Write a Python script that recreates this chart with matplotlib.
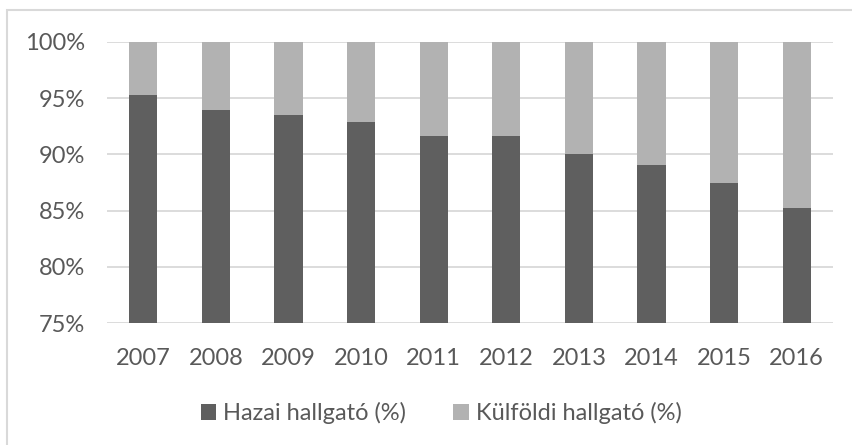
import matplotlib.pyplot as plt
from matplotlib.patches import Rectangle
from matplotlib.ticker import FuncFormatter

years = ['2007', '2008', '2009', '2010', '2011', '2012', '2013', '2014', '2015', '2016']
hazai = [95.3, 93.95, 93.5, 92.85, 91.65, 91.65, 90.05, 89.1, 87.5, 85.2]
kulfoldi = [100 - v for v in hazai]
labels = ['Hazai hallgató (%)', 'Külföldi hallgató (%)']
colors = ['#5f5f5f', '#b2b2b2']

plt.rcParams['font.family'] = ['Lato', 'DejaVu Sans']

fig = plt.figure(figsize=(8.52, 4.45), dpi=100)
ax = fig.add_axes([107 / 852, (445 - 323) / 445, (833 - 107) / 852, (323 - 42) / 445])

# outer chart frame (cropped at right/bottom)
fig.patches.append(Rectangle((7 / 852, -0.1), 1.2, (445 - 10) / 445 + 0.1,
                             transform=fig.transFigure, fill=False,
                             edgecolor='#d9d9d9', linewidth=1.5))

x = range(len(years))
ax.bar(x, hazai, width=0.39, color=colors[0], label=labels[0], zorder=2)
ax.bar(x, kulfoldi, width=0.39, bottom=hazai, color=colors[1], label=labels[1], zorder=2)

ax.set_ylim(75, 100)
ax.set_xlim(-0.5, len(years) - 0.5)
ax.set_yticks([75, 80, 85, 90, 95, 100])
ax.yaxis.set_major_formatter(FuncFormatter(lambda v, p: '%d%%' % v))
ax.set_xticks(list(x))
ax.set_xticklabels(years)
ax.grid(axis='y', color='#d9d9d9', linewidth=1.3, zorder=0)
for s in ax.spines.values():
    s.set_visible(False)
ax.tick_params(length=0, labelsize=17, colors='#595959')
ax.tick_params(axis='x', pad=18)
ax.tick_params(axis='y', pad=16)

leg = fig.legend(loc='center', bbox_to_anchor=(441 / 852, (445 - 413) / 445), ncol=2,
                 frameon=False, fontsize=17, handlelength=0.65, handleheight=0.65,
                 handletextpad=0.3, columnspacing=2.0, labelcolor='#595959')

fig.savefig('out.png', dpi=100)
